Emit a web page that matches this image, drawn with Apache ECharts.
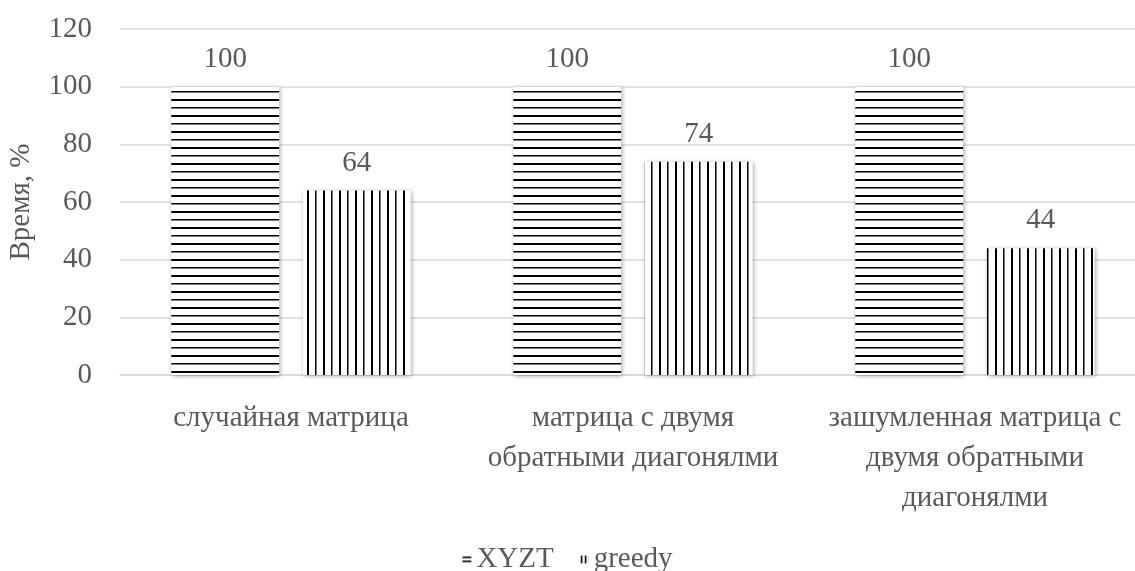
<!DOCTYPE html>
<html><head><meta charset="utf-8">
<script src="https://cdn.jsdelivr.net/npm/echarts@6/dist/echarts.min.js"></script>
<style>html,body{margin:0;padding:0;background:#fff}#c{width:1135px;height:571px}</style>
</head><body><div id="c"></div>
<script>
const categories = ['случайная матрица', 'матрица с двумя\nобратными диагонялми', 'зашумленная матрица с\nдвумя обратными\nдиагонялми'];
const seriesNames = ['XYZT', 'greedy'];
const xyztValues = [100, 100, 100];
const greedyValues = [64, 74, 44];
const yTicks = {min: 0, max: 120, interval: 20};
const yAxisName = 'Время, %';

function makePattern(horizontal, size, lines) {
  const c = document.createElement('canvas');
  c.width = size; c.height = size;
  const g = c.getContext('2d');
  g.fillStyle = '#fff'; g.fillRect(0, 0, size, size);
  g.fillStyle = '#000';
  lines.forEach(([p, w]) => {
    if (horizontal) g.fillRect(0, p, size, w); else g.fillRect(p, 0, w, size);
  });
  return {image: c, repeat: 'repeat'};
}
const FONT = 'Liberation Serif';
const FS = 29;
const TXT = '#595959';
const chart = echarts.init(document.getElementById('c'));
const barStyle = (p) => ({color: p, shadowColor: 'rgba(0,0,0,0.35)', shadowBlur: 4, shadowOffsetX: 1, shadowOffsetY: 1});
const hBar = makePattern(true, 16, [[3, 2], [11, 1.5]]);
const vBar = makePattern(false, 16, [[3, 2], [11, 1.5]]);
const hIcon = makePattern(true, 4, [[1, 1.6]]);
const vIcon = makePattern(false, 4, [[1, 1.6]]);
chart.setOption({
  animation: false,
  textStyle: {fontFamily: FONT},
  grid: {left: 120, right: -11, top: 29, bottom: 196, containLabel: false, outerBoundsMode: 'none'},
  legend: {bottom: -8, left: 'center', itemWidth: 9, itemHeight: 8, itemGap: 26,
    textStyle: {fontFamily: FONT, fontSize: FS, color: TXT},
    data: [{name: seriesNames[0], itemStyle: {color: hIcon}}, {name: seriesNames[1], itemStyle: {color: vIcon}}]},
  xAxis: {type: 'category', data: categories,
    axisLine: {show: true, lineStyle: {color: '#d9d9d9', width: 1.5}}, axisTick: {show: false},
    axisLabel: {interval: 0, margin: 23, fontFamily: FONT, fontSize: FS, color: TXT, lineHeight: 40, align: 'center'}},
  yAxis: {type: 'value', min: yTicks.min, max: yTicks.max, interval: yTicks.interval,
    name: yAxisName, nameLocation: 'middle', nameGap: 84, nameRotate: 90,
    nameTextStyle: {fontFamily: FONT, fontSize: FS, color: TXT},
    axisLine: {show: false}, axisTick: {show: false},
    axisLabel: {margin: 28, fontFamily: FONT, fontSize: FS, color: TXT},
    splitLine: {lineStyle: {color: '#d9d9d9', width: 1.5}}},
  series: [
    {name: seriesNames[0], type: 'bar', data: xyztValues, barCategoryGap: '30%', barGap: '22%',
      itemStyle: barStyle(hBar),
      label: {show: true, position: 'top', distance: 13, fontFamily: FONT, fontSize: FS, color: TXT}},
    {name: seriesNames[1], type: 'bar', data: greedyValues,
      itemStyle: barStyle(vBar),
      label: {show: true, position: 'top', distance: 13, fontFamily: FONT, fontSize: FS, color: TXT}}
  ]
});
</script></body></html>
